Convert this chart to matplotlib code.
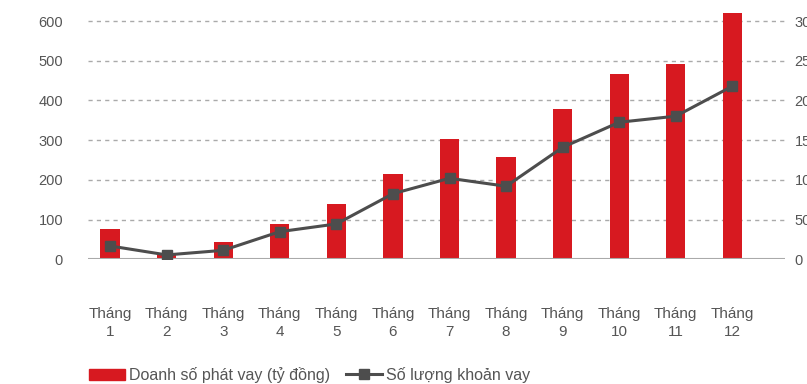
import matplotlib.pyplot as plt
from matplotlib.patches import Patch
from matplotlib.lines import Line2D

plt.rcParams['font.family'] = ['Liberation Sans', 'DejaVu Sans']

months = ["Tháng\n%d" % i for i in range(1, 13)]
doanh_so = [76, 11, 44, 89, 139, 215, 302, 257, 378, 466, 491, 620]
so_luong = [168, 55, 113, 348, 445, 826, 1020, 920, 1410, 1726, 1802, 2180]
left_ticks = [0, 100, 200, 300, 400, 500, 600]
right_ticks = [0, 500, 1000, 1500, 2000, 2500, 3000]

red = '#d71920'
dark = '#4d4d4d'
txt = '#555555'

fig = plt.figure(figsize=(8.07, 3.84), dpi=100)
ax = fig.add_axes([88 / 807, 1 - 259.3 / 384, (785 - 88) / 807, 259.3 / 384])
ax2 = ax.twinx()

x = range(len(months))
ax.bar(x, doanh_so, width=0.34, color=red, zorder=3)
ax2.plot(x, so_luong, color=dark, lw=2.2, marker='s', ms=7.5, zorder=4)

ax.set_xlim(-0.39, 11.93)
ax.set_ylim(0, 653)
ax2.set_ylim(0, 653 * 5)

ax.set_yticks(left_ticks)
ax2.set_yticks(right_ticks)
for t in left_ticks[1:]:
    ax.axhline(t, color='#aaaaaa', lw=1, ls=(0, (3, 3)), zorder=1)
ax.axhline(0, color='#aaaaaa', lw=1.5, zorder=5)

ax.set_xticks(list(x))
ax.set_xticklabels(months, fontsize=11, color=txt, linespacing=1.45)
ax.tick_params(axis='x', length=0, pad=34)
ax.tick_params(axis='y', length=0, pad=18, labelsize=10.5, labelcolor=txt)
ax2.tick_params(axis='y', length=0, pad=7, labelsize=10.5, labelcolor=txt)

for a in (ax, ax2):
    for s in a.spines.values():
        s.set_visible(False)

handles = [Patch(color=red), Line2D([], [], color=dark, lw=2.2, marker='s', ms=7)]
labels = ["Doanh số phát vay (tỷ đồng)", "Số lượng khoản vay"]
fig.legend(handles, labels, loc='lower left', bbox_to_anchor=(75 / 807, -0.035), ncol=2,
           frameon=False, fontsize=11.5, labelcolor=txt, handlelength=2.2,
           handletextpad=0.3, columnspacing=1.0)

fig.savefig('out.png', dpi=100)
